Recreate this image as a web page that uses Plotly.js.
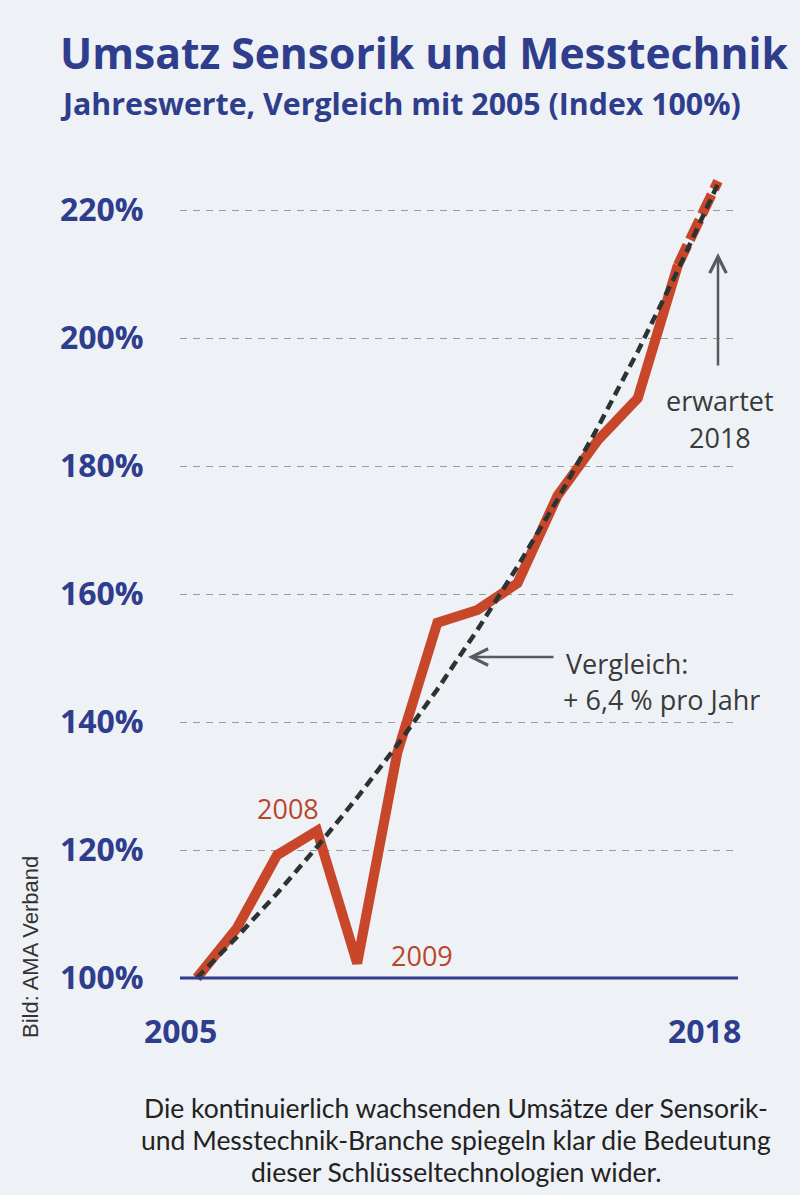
<!DOCTYPE html>
<html>
<head>
<meta charset="utf-8">
<script src="https://cdn.plot.ly/plotly-3.0.1.min.js"></script>
<style>
  html, body { margin: 0; padding: 0; background: #eef1f5; }
  #chart { width: 800px; height: 1195px; }
</style>
</head>
<body>
<div id="chart"></div>
<script>
// ---- data ----
const years = [2005, 2006, 2007, 2008, 2009, 2010, 2011, 2012, 2013, 2014, 2015, 2016, 2017];
const umsatz = [100, 107.8, 119.2, 123.0, 102.3, 135.2, 155.5, 157.5, 161.7, 175.4, 184.0, 190.6, 211.4];
const forecastYears = [2017, 2018];
const forecast = [211.4, 224.5];
const compYears = [2005, 2006, 2007, 2008, 2009, 2010, 2011, 2012, 2013, 2014, 2015, 2016, 2017, 2018];
const comparison = [100, 106.4, 113.2, 120.5, 128.2, 136.4, 145.1, 154.4, 164.3, 174.8, 186.0, 197.9, 210.6, 224.1];
const yTicks = [100, 120, 140, 160, 180, 200, 220];
const yTickText = ['100%', '120%', '140%', '160%', '180%', '200%', '220%'];
const xLabels = ['2005', '2018'];
const captionLines = [
  'Die kontinuierlich wachsenden Umsätze der Sensorik-',
  'und Messtechnik-Branche spiegeln klar die Bedeutung',
  'dieser Schlüsseltechnologien wider.'
];

const BLUE = '#2e3d8c';
const RED = '#c8472b';
const GREY = '#3a3a3a';

// layout geometry (plot area 180..738 px horizontally, 170..990 px vertically)
const L = 180, R = 62, T = 170, B = 205, PW = 800 - L - R, PH = 1195 - T - B;
const px = x => (x - L) / PW;
const py = y => (1195 - B - y) / PH;

const traces = [
  { x: years, y: umsatz, type: 'scatter', mode: 'lines',
    line: { color: RED, width: 10 }, hoverinfo: 'skip' },
  { x: forecastYears, y: forecast, type: 'scatter', mode: 'lines',
    line: { color: RED, width: 10, dash: '22px,6px' }, hoverinfo: 'skip' },
  { x: compYears, y: comparison, type: 'scatter', mode: 'lines',
    line: { color: '#2c3333', width: 4.5, dash: '10px,6px' }, hoverinfo: 'skip' }
];

const txt = (x, y, text, size, color, anchor, extra) => Object.assign({
  xref: 'paper', yref: 'paper', x: px(x), y: py(y), xanchor: anchor || 'center', yanchor: 'middle',
  text: text, showarrow: false,
  font: { family: 'Open Sans, sans-serif', size: size, color: color }
}, extra || {});

const annotations = [
  txt(58, 52, 'Umsatz Sensorik und Messtechnik', 42.6, BLUE, 'left'),
  txt(58, 104, 'Jahreswerte, Vergleich mit 2005 (Index 100%)', 30.3, BLUE, 'left'),
  txt(180, 1030, xLabels[0], 32, BLUE),
  txt(704, 1030, xLabels[1], 32, BLUE),
  txt(288, 808, '2008', 27, '#b8472a'),
  txt(422, 955, '2009', 27, '#b8472a'),
  txt(564, 663, 'Vergleich:', 27, GREY, 'left'),
  txt(561, 699, '+ 6,4 % pro Jahr', 27, GREY, 'left'),
  txt(720, 400, 'erwartet', 27, GREY),
  txt(720, 438, '2018', 27, GREY),
  txt(30, 947, 'Bild: AMA Verband', 22, '#333', 'center', { textangle: -90 }),
  txt(456, 1108, captionLines[0], 26.5, '#222'),
  txt(456, 1140, captionLines[1], 26.5, '#222'),
  txt(456, 1172, captionLines[2], 26.5, '#222'),
  // arrows
  { xref: 'paper', yref: 'paper', x: px(468), y: py(657), ax: 87, ay: 0, text: '',
    showarrow: true, arrowhead: 5, arrowsize: 1.3, arrowwidth: 2.5, arrowcolor: '#555b5e' },
  { xref: 'paper', yref: 'paper', x: px(718), y: py(253), ax: 0, ay: 114, text: '',
    showarrow: true, arrowhead: 5, arrowsize: 1.3, arrowwidth: 2.5, arrowcolor: '#555b5e' }
];
// bold for title/axis labels
[0, 1, 2, 3].forEach(i => annotations[i].font.weight = 700);
annotations[10].font.family = 'Liberation Sans, Arial, sans-serif';
[11, 12, 13].forEach(i => annotations[i].font.family = 'Lato, sans-serif');

const layout = {
  width: 800, height: 1195,
  margin: { l: L, r: R, t: T, b: B },
  paper_bgcolor: '#eef1f5', plot_bgcolor: '#eef1f5',
  showlegend: false,
  font: { family: 'Open Sans, sans-serif' },
  xaxis: {
    range: [2004.58, 2018.5], showgrid: false, zeroline: false,
    showticklabels: false, ticks: '', showline: false, fixedrange: true
  },
  yaxis: {
    range: [98.125, 226.25], tickmode: 'array', tickvals: yTicks, ticktext: yTickText,
    showgrid: true, gridcolor: '#9c9c9c', gridwidth: 1, griddash: '7px,6px',
    zeroline: false, showline: false,
    ticks: 'outside', ticklen: 29, tickcolor: 'rgba(0,0,0,0)',
    tickfont: { family: 'Open Sans, sans-serif', size: 32, color: BLUE, weight: 700 },
    fixedrange: true
  },
  shapes: [
    { type: 'line', xref: 'paper', yref: 'y', x0: 0, x1: 1, y0: 100, y1: 100,
      line: { color: BLUE, width: 3 }, layer: 'above' }
  ],
  annotations: annotations
};

Plotly.newPlot('chart', traces, layout, { staticPlot: true, displayModeBar: false });
</script>
</body>
</html>
